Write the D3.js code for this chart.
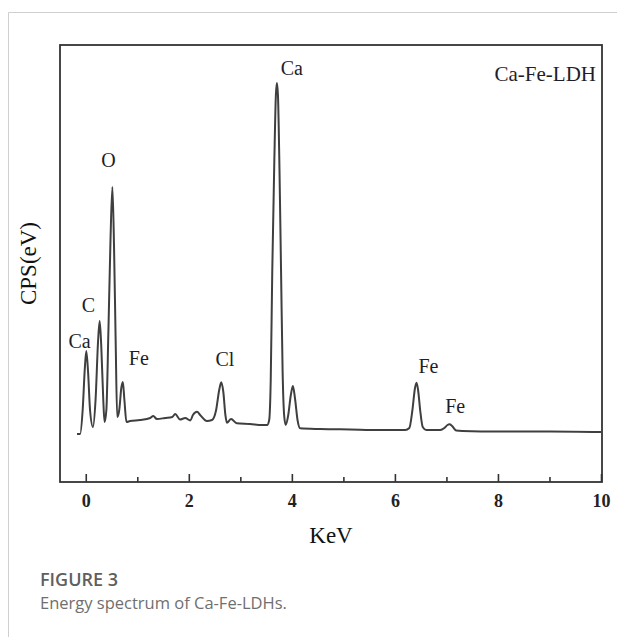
<!DOCTYPE html>
<html>
<head>
<meta charset="utf-8">
<script src="https://cdn.jsdelivr.net/npm/d3@7"></script>
<style>
  html, body { margin: 0; padding: 0; background: #fff; }
  svg { display: block; }
</style>
</head>
<body>
<svg id="chart" width="617" height="637"></svg>
<script>
// EDS spectrum of Ca-Fe-LDH: energy (keV) vs counts (arbitrary CPS units)
const energyKeV = [
  -0.17, -0.11, -0.06, -0.02, 0.01, 0.045, 0.083, 0.14, 0.19, 0.24, 0.27, 0.30, 0.34, 0.365,
  0.40, 0.44, 0.48, 0.517, 0.55, 0.58, 0.61, 0.65, 0.69, 0.72, 0.75, 0.79, 0.86, 1.05, 1.25,
  1.31, 1.38, 1.54, 1.68, 1.735, 1.83, 1.93, 2.03, 2.08, 2.16, 2.22, 2.35, 2.45, 2.53, 2.59,
  2.63, 2.67, 2.71, 2.74, 2.82, 2.93, 3.19, 3.42, 3.52, 3.56, 3.59, 3.62, 3.66, 3.69, 3.71,
  3.73, 3.76, 3.79, 3.82, 3.85, 3.88, 3.93, 3.98, 4.02, 4.06, 4.11, 4.16, 4.55, 5.13, 5.71,
  6.20, 6.28, 6.34, 6.39, 6.42, 6.45, 6.49, 6.54, 6.61, 6.88, 6.96, 7.02, 7.06, 7.11, 7.19,
  7.31, 8.04, 9.02, 10.0
];
const cps = [
  480, 480, 720, 1120, 1310, 1100, 720, 550, 820, 1420, 1610, 1370, 820, 600,
  720, 1520, 2420, 2950, 2320, 1420, 650, 720, 940, 1000, 820, 600, 610, 620, 640,
  660, 630, 640, 650, 680, 625, 640, 615, 670, 703, 670, 610, 620, 720, 920,
  997, 900, 670, 593, 630, 587, 580, 570, 570, 620, 1020, 2120, 3220, 3870, 3990,
  3870, 3120, 2120, 1120, 670, 570, 670, 870, 960, 840, 620, 537, 530, 525, 520,
  520, 540, 720, 940, 993, 920, 720, 550, 520, 520, 540, 570, 577, 560, 515,
  510, 505, 505, 500
];

// Element annotations: label text, energy (keV) of its centre, count level of its baseline
const peakLabels = ["Ca", "C", "O", "Fe", "Cl", "Ca", "Fe", "Fe"];
const peakLabelKeV = [-0.12, 0.05, 0.44, 1.03, 2.70, 4.00, 6.65, 7.17];
const peakLabelCps = [1340, 1700, 3150, 1170, 1160, 4070, 1090, 690];

const sampleName = "Ca-Fe-LDH";
const majorTicks = [0, 2, 4, 6, 8, 10];
const minorTicks = [1, 3, 5, 7, 9];
const xTitle = "KeV";
const yTitle = "CPS(eV)";
const figLabel = "FIGURE 3";
const figCaption = "Energy spectrum of Ca-Fe-LDHs.";

const svg = d3.select("#chart");
const plot = { left: 60, top: 45, right: 602, bottom: 482 };

const x = d3.scaleLinear().domain([-0.5, 10]).range([plot.left, plot.right - 1]);
const y = d3.scaleLinear().domain([0, 4370]).range([plot.bottom, plot.top]);

const serif = "'Liberation Serif', 'Times New Roman', serif";

// card outline
svg.append("path")
  .attr("d", "M8.5,637 V12.5 H617")
  .attr("fill", "none")
  .attr("stroke", "#cfcfcf")
  .attr("stroke-width", 1);

// spectrum trace
const pts = energyKeV.map((e, i) => [e, cps[i]]);
const line = d3.line()
  .x(d => x(d[0]))
  .y(d => y(d[1]))
  .curve(d3.curveMonotoneX);

svg.append("path")
  .datum(pts)
  .attr("d", line)
  .attr("fill", "none")
  .attr("stroke", "#3f3f3f")
  .attr("stroke-width", 2)
  .attr("stroke-linejoin", "round");

// minor ticks (inward)
const minorAxis = d3.axisBottom(x).tickValues(minorTicks).tickSize(-5).tickFormat("");
svg.append("g")
  .attr("transform", `translate(0,${plot.bottom})`)
  .call(minorAxis)
  .call(g => g.select(".domain").remove())
  .call(g => g.selectAll(".tick line").attr("stroke", "#333").attr("stroke-width", 1.6));

// major ticks (inward) with labels
const majorAxis = d3.axisBottom(x).tickValues(majorTicks).tickSize(-8).tickPadding(12).tickFormat(d3.format("d"));
svg.append("g")
  .attr("transform", `translate(0,${plot.bottom})`)
  .call(majorAxis)
  .call(g => g.select(".domain").remove())
  .call(g => g.selectAll(".tick line").attr("stroke", "#333").attr("stroke-width", 1.6))
  .call(g => g.selectAll(".tick text")
    .attr("font-family", serif)
    .attr("font-size", 18)
    .attr("font-weight", "bold")
    .attr("fill", "#222"));

// plot frame
svg.append("rect")
  .attr("x", plot.left)
  .attr("y", plot.top)
  .attr("width", plot.right - plot.left)
  .attr("height", plot.bottom - plot.top)
  .attr("fill", "none")
  .attr("stroke", "#333")
  .attr("stroke-width", 1.8);

// axis titles
svg.append("text")
  .attr("x", (plot.left + plot.right) / 2)
  .attr("y", 543)
  .attr("text-anchor", "middle")
  .attr("font-family", serif)
  .attr("font-size", 23)
  .attr("fill", "#111")
  .text(xTitle);

svg.append("text")
  .attr("transform", `translate(36,${(plot.top + plot.bottom) / 2}) rotate(-90)`)
  .attr("text-anchor", "middle")
  .attr("font-family", serif)
  .attr("font-size", 23)
  .attr("fill", "#111")
  .text(yTitle);

// element labels
svg.append("g")
  .selectAll("text")
  .data(peakLabels)
  .join("text")
  .attr("x", (d, i) => x(peakLabelKeV[i]))
  .attr("y", (d, i) => y(peakLabelCps[i]))
  .attr("text-anchor", "middle")
  .attr("font-family", serif)
  .attr("font-size", 20)
  .attr("fill", "#1e1e2a")
  .text(d => d);

// sample name
svg.append("text")
  .attr("x", 596)
  .attr("y", 81)
  .attr("text-anchor", "end")
  .attr("font-family", serif)
  .attr("font-size", 21)
  .attr("fill", "#1e1e2a")
  .text(sampleName);

// caption
svg.append("text")
  .attr("x", 40)
  .attr("y", 586)
  .attr("font-family", "'Open Sans', sans-serif")
  .attr("font-size", 18)
  .attr("font-weight", 600)
  .attr("fill", "#5f5f5f")
  .text(figLabel);

svg.append("text")
  .attr("x", 40)
  .attr("y", 609)
  .attr("font-family", "'Open Sans', sans-serif")
  .attr("font-size", 16.5)
  .attr("fill", "#6f6f6f")
  .text(figCaption);
</script>
</body>
</html>
